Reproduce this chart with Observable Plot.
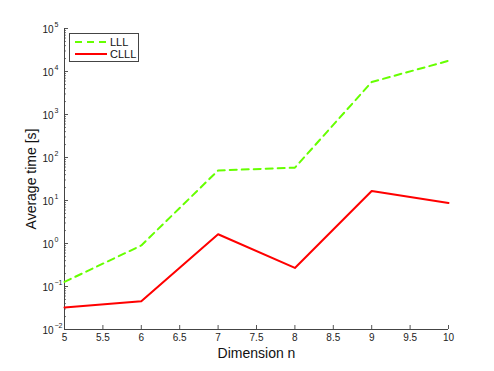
<!DOCTYPE html>
<html>
<head>
<meta charset="utf-8">
<script src="https://cdn.jsdelivr.net/npm/d3@7"></script>
<script src="https://cdn.jsdelivr.net/npm/@observablehq/plot@0.6"></script>
<style>
  html, body { margin: 0; padding: 0; background: #fff; }
  #wrap { position: relative; width: 494px; height: 371px; font-family: "Liberation Sans", Arial, sans-serif; }
  #legend { position: absolute; left: 69px; top: 33px; width: 68px; height: 27px; border: 1px solid #444; background: #fff; box-sizing: content-box; }
  .entry { position: absolute; left: 5px; height: 12px; display: flex; align-items: center; font-size: 11px; color: #111; }
  .entry svg { margin-right: 3px; }
</style>
</head>
<body>
<div id="wrap"><div id="legend"></div></div>
<script>
// ---- data ----
const dims = [5, 6, 7, 8, 9, 10];
const lll  = [0.128, 0.9, 50, 58, 5700, 17700];
const clll = [0.0325, 0.0455, 1.64, 0.27, 16.7, 8.8];
const seriesNames = ["LLL", "CLLL"];
const seriesColors = ["#66ff00", "#ff0000"];
const seriesDash = ["7,5", null];
const xTicks = [5, 5.5, 6, 6.5, 7, 7.5, 8, 8.5, 9, 9.5, 10];
const yExponents = [-2, -1, 0, 1, 2, 3, 4, 5];
const xLabel = "Dimension n";
const yLabel = "Average time [s]";
const xDomain = [5, 10];
const yDomain = [1e-2, 1e5];

const yMajor = yExponents.map(e => Math.pow(10, e));
const yMinor = [];
for (const e of yExponents.slice(0, -1)) for (let m = 2; m <= 9; m++) yMinor.push(m * Math.pow(10, e));

const series = [lll, clll].map((vals, i) => dims.map((d, j) => ({x: d, y: vals[j], s: seriesNames[i]})));

const axisStroke = "#444";
const font = "Liberation Sans, Arial, sans-serif";

const chart = Plot.plot({
  width: 494,
  height: 371,
  marginLeft: 64,
  marginRight: 46,
  marginTop: 28,
  marginBottom: 42,
  style: {fontFamily: font, background: "#fff", color: "#222"},
  x: {domain: xDomain, type: "linear"},
  y: {domain: yDomain, type: "log"},
  marks: [
    // minor and major y ticks (inward)
    Plot.axisY({ticks: yMinor, tickSize: -2, tickFormat: () => "", stroke: "#777", label: null}),
    Plot.axisY({ticks: yMajor, tickSize: -4, tickFormat: () => "", stroke: "#555", label: null}),
    // x ticks with labels
    Plot.axisX({ticks: xTicks, tickSize: -4, tickPadding: 8, stroke: "#555", fill: "#222", fontSize: 10, tickFormat: d => String(d), label: null}),
    // axis lines
    Plot.ruleX([xDomain[0]], {stroke: axisStroke, strokeWidth: 1}),
    Plot.ruleY([yDomain[0]], {stroke: axisStroke, strokeWidth: 1}),
    // y tick labels 10^e
    Plot.text(yMajor, {y: d => d, frameAnchor: "left", textAnchor: "end", lineAnchor: "middle", dx: -11, dy: 1, text: () => "10", fontSize: 10, fill: "#222"}),
    Plot.text(yMajor, {y: d => d, frameAnchor: "left", textAnchor: "start", lineAnchor: "middle", dx: -10, dy: -4, text: d => String(Math.round(Math.log10(d))).replace("-", "\u2212"), fontSize: 7, fill: "#222"}),
    // series
    ...series.map((data, i) => Plot.line(data, {x: "x", y: "y", stroke: seriesColors[i], strokeWidth: 2, strokeDasharray: seriesDash[i] ?? undefined})),
    // axis titles
    Plot.text([xLabel], {frameAnchor: "bottom", textAnchor: "middle", lineAnchor: "middle", dy: 24.5, text: d => d, fontSize: 14, fill: "#111"}),
    Plot.text([yLabel], {frameAnchor: "left", textAnchor: "middle", lineAnchor: "middle", rotate: -90, dx: -33, text: d => d, fontSize: 14, fill: "#111"})
  ]
});
document.getElementById("wrap").prepend(chart);

// legend
const legend = document.getElementById("legend");
seriesNames.forEach((name, i) => {
  const e = document.createElement("div");
  e.className = "entry";
  e.style.top = (2 + i * 12) + "px";
  e.innerHTML = `<svg width="32" height="4"><line x1="0" y1="2" x2="32" y2="2" stroke="${seriesColors[i]}" stroke-width="2" ${seriesDash[i] ? `stroke-dasharray="${seriesDash[i]}"` : ""}/></svg><span>${name}</span>`;
  legend.appendChild(e);
});
</script>
</body>
</html>
